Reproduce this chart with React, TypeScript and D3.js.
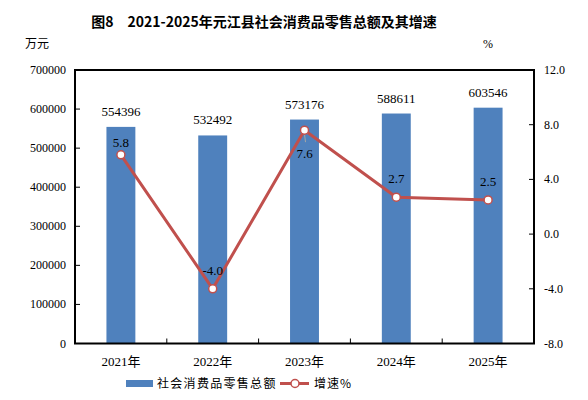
import { useEffect, useRef } from "react";
import * as d3 from "d3";

// Chart data
const YEARS = ["2021年", "2022年", "2023年", "2024年", "2025年"];
const SALES = [554396, 532492, 573176, 588611, 603546];
const GROWTH = [5.8, -4.0, 7.6, 2.7, 2.5];
const LEFT_TICKS = [0, 100000, 200000, 300000, 400000, 500000, 600000, 700000];
const RIGHT_TICKS = [-8, -4, 0, 4, 8, 12];

// Growth label placement relative to its point: dx, dy (px)
const GROWTH_LABEL_OFFSET: [number, number][] = [
  [0, -12],
  [0, -18],
  [0, 24],
  [0, -18],
  [0, -18],
];

const W = 588;
const H = 400;
const M = { left: 75, right: 54, top: 70, bottom: 56.5 };

const BAR_COLOR = "#4F81BD";
const LINE_COLOR = "#C0504D";
const SERIF = "'Liberation Serif', 'Times New Roman', serif";
const CJK = "'Noto Sans CJK SC', sans-serif";

export default function App() {
  const svgRef = useRef<SVGSVGElement>(null);

  useEffect(() => {
    const svg = d3.select(svgRef.current);
    svg.selectAll("*").remove();

    const x0 = M.left;
    const x1 = W - M.right;
    const y0 = H - M.bottom;
    const y1 = M.top;

    const x = d3.scaleBand().domain(YEARS).range([x0, x1]).paddingInner(0).paddingOuter(0);
    const yL = d3.scaleLinear().domain([0, 700000]).range([y0, y1]);
    const yR = d3.scaleLinear().domain([-8, 12]).range([y0, y1]);
    const barW = x.bandwidth() * 0.315;

    // ── Title & units ────────────────────────────────────────────────────────
    svg.append("text")
      .attr("x", 264).attr("y", 27)
      .attr("text-anchor", "middle")
      .attr("font-family", CJK)
      .attr("font-weight", "700")
      .attr("font-size", "14px")
      .attr("fill", "#000")
      .text("图8\u30002021-2025年元江县社会消费品零售总额及其增速");

    svg.append("text")
      .attr("x", 25).attr("y", 48)
      .attr("font-family", CJK).attr("font-size", "12px")
      .text("万元");
    svg.append("text")
      .attr("x", 483).attr("y", 48)
      .attr("font-family", SERIF).attr("font-size", "12px")
      .text("%");

    // ── Bars ─────────────────────────────────────────────────────────────────
    svg.append("g")
      .selectAll("rect")
      .data(SALES)
      .join("rect")
      .attr("x", (_, i) => x(YEARS[i])! + x.bandwidth() / 2 - barW / 2)
      .attr("y", (d) => yL(d))
      .attr("width", barW)
      .attr("height", (d) => y0 - yL(d))
      .attr("fill", BAR_COLOR);

    svg.append("g")
      .selectAll("text")
      .data(SALES)
      .join("text")
      .attr("x", (_, i) => x(YEARS[i])! + x.bandwidth() / 2)
      .attr("y", (d) => yL(d) - 11)
      .attr("text-anchor", "middle")
      .attr("font-family", SERIF)
      .attr("font-size", "13px")
      .text((d) => String(d));

    // ── Frame & axes ─────────────────────────────────────────────────────────
    svg.append("rect")
      .attr("x", x0).attr("y", y1)
      .attr("width", x1 - x0).attr("height", y0 - y1)
      .attr("fill", "none")
      .attr("stroke", "#000")
      .attr("stroke-width", 2);

    const left = svg.append("g");
    LEFT_TICKS.forEach((t) => {
      left.append("line")
        .attr("x1", x0).attr("x2", x0 + 5)
        .attr("y1", yL(t)).attr("y2", yL(t))
        .attr("stroke", "#000").attr("stroke-width", 1);
      left.append("text")
        .attr("x", x0 - 9).attr("y", yL(t) + 4)
        .attr("text-anchor", "end")
        .attr("font-family", SERIF).attr("font-size", "12px")
        .text(String(t));
    });

    const right = svg.append("g");
    RIGHT_TICKS.forEach((t) => {
      right.append("line")
        .attr("x1", x1 - 5).attr("x2", x1)
        .attr("y1", yR(t)).attr("y2", yR(t))
        .attr("stroke", "#000").attr("stroke-width", 1);
      right.append("text")
        .attr("x", x1 + 10).attr("y", yR(t) + 4)
        .attr("font-family", SERIF).attr("font-size", "12px")
        .text(t.toFixed(1));
    });

    const bottom = svg.append("g");
    YEARS.slice(1).forEach((yr) => {
      bottom.append("line")
        .attr("x1", x(yr)!).attr("x2", x(yr)!)
        .attr("y1", y0).attr("y2", y0 - 5)
        .attr("stroke", "#000").attr("stroke-width", 1);
    });
    YEARS.forEach((yr) => {
      bottom.append("text")
        .attr("x", x(yr)! + x.bandwidth() / 2).attr("y", y0 + 22)
        .attr("text-anchor", "middle")
        .attr("font-family", `${SERIF.split(",")[0]}, ${CJK}`)
        .attr("font-size", "13px")
        .text(yr);
    });

    // ── Growth line ──────────────────────────────────────────────────────────
    const cx = (i: number) => x(YEARS[i])! + x.bandwidth() / 2;
    const line = d3.line<number>().x((_, i) => cx(i)).y((d) => yR(d));

    svg.append("path")
      .attr("d", line(GROWTH))
      .attr("fill", "none")
      .attr("stroke", LINE_COLOR)
      .attr("stroke-width", 3)
      .attr("stroke-linejoin", "round");

    // leader line for the label drawn below its point
    const i3 = 2;
    svg.append("line")
      .attr("x1", cx(i3)).attr("x2", cx(i3) + 1)
      .attr("y1", yR(GROWTH[i3]) + 4).attr("y2", yR(GROWTH[i3]) + 12)
      .attr("stroke", "#a6a6a6").attr("stroke-width", 1);

    svg.append("g")
      .selectAll("circle")
      .data(GROWTH)
      .join("circle")
      .attr("cx", (_, i) => cx(i))
      .attr("cy", (d) => yR(d))
      .attr("r", 4)
      .attr("fill", "#fff")
      .attr("stroke", LINE_COLOR)
      .attr("stroke-width", 1.5);

    svg.append("g")
      .selectAll("text")
      .data(GROWTH)
      .join("text")
      .attr("x", (_, i) => cx(i) + GROWTH_LABEL_OFFSET[i][0])
      .attr("y", (d, i) => yR(d) + GROWTH_LABEL_OFFSET[i][1] + 4)
      .attr("text-anchor", "middle")
      .attr("font-family", SERIF)
      .attr("font-size", "13px")
      .text((d) => d.toFixed(1));

    // ── Legend ───────────────────────────────────────────────────────────────
    const lg = svg.append("g");
    lg.append("rect")
      .attr("x", 126).attr("y", 380)
      .attr("width", 27).attr("height", 7)
      .attr("fill", BAR_COLOR);
    lg.append("text")
      .attr("x", 157).attr("y", 388)
      .attr("font-family", CJK).attr("font-size", "12px")
      .attr("letter-spacing", "1.3px")
      .text("社会消费品零售总额");
    lg.append("line")
      .attr("x1", 280).attr("x2", 309)
      .attr("y1", 383.5).attr("y2", 383.5)
      .attr("stroke", LINE_COLOR).attr("stroke-width", 3);
    lg.append("circle")
      .attr("cx", 295).attr("cy", 383.5).attr("r", 4)
      .attr("fill", "#fff")
      .attr("stroke", LINE_COLOR).attr("stroke-width", 1.5);
    lg.append("text")
      .attr("x", 314).attr("y", 388)
      .attr("font-family", CJK).attr("font-size", "12px")
      .attr("letter-spacing", "1px")
      .text("增速%");
  }, []);

  return (
    <div style={{ position: "absolute", left: 0, top: 0, width: W, height: H, background: "#fff" }}>
      <svg ref={svgRef} width={W} height={H} style={{ display: "block" }} />
    </div>
  );
}
